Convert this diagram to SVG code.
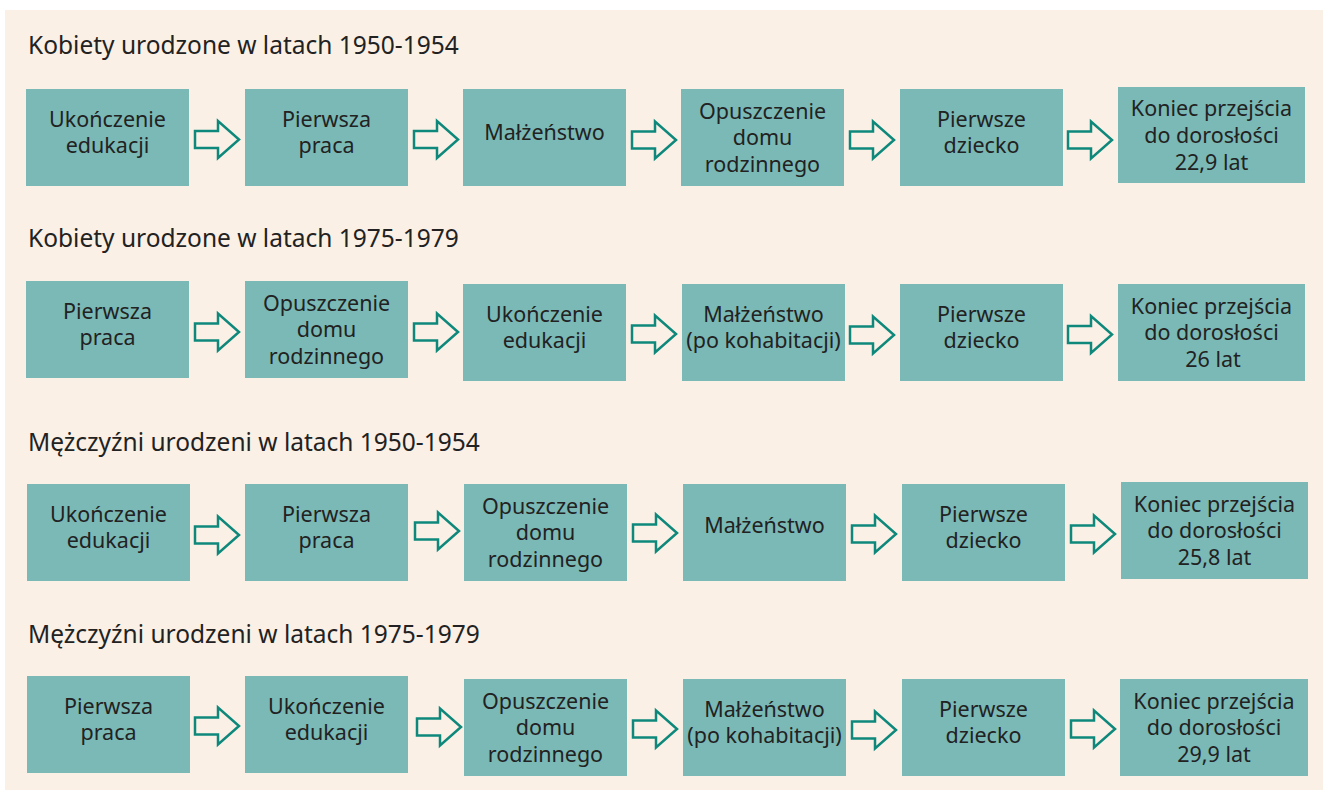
<svg xmlns="http://www.w3.org/2000/svg" width="1323" height="792" viewBox="0 0 1323 792">
<style>
.bg{fill:#faf0e6}
.box{fill:#7ab9b6}
.t{font-family:"Noto Sans","Open Sans",sans-serif;fill:#222;}
.title{font-size:24.5px}
.bt{font-size:21.5px;text-anchor:middle}
.arr{fill:none;stroke:#0e887b;stroke-width:2.5;stroke-linejoin:miter}
</style>
<defs>
<polygon id="ar" points="0,-8.5 23,-8.5 23,-18.5 44,0 23,18.5 23,8.5 0,8.5"/>
</defs>
<rect class="bg" x="5" y="10" width="1318" height="780"/>

<g id="titles">
<text class="t title" x="28" y="54">Kobiety urodzone w latach 1950-1954</text>
<text class="t title" x="28" y="247">Kobiety urodzone w latach 1975-1979</text>
<text class="t title" x="28" y="451">Mężczyźni urodzeni w latach 1950-1954</text>
<text class="t title" x="28" y="643">Mężczyźni urodzeni w latach 1975-1979</text>
</g>

<!-- Row 1 -->
<g id="r1b1"><rect class="box" x="26" y="89" width="163" height="97"/><text class="t bt" x="107.5" y="127">Ukończenie</text><text class="t bt" x="107.5" y="153">edukacji</text></g>
<g id="r1b2"><rect class="box" x="245" y="89" width="163" height="97"/><text class="t bt" x="326.5" y="127">Pierwsza</text><text class="t bt" x="326.5" y="153">praca</text></g>
<g id="r1b3"><rect class="box" x="463" y="89" width="163" height="97"/><text class="t bt" x="544.5" y="140">Małżeństwo</text></g>
<g id="r1b4"><rect class="box" x="681" y="89" width="163" height="97"/><text class="t bt" x="762.5" y="119">Opuszczenie</text><text class="t bt" x="762.5" y="145">domu</text><text class="t bt" x="762.5" y="172">rodzinnego</text></g>
<g id="r1b5"><rect class="box" x="900" y="89" width="163" height="97"/><text class="t bt" x="981.5" y="127">Pierwsze</text><text class="t bt" x="981.5" y="153">dziecko</text></g>
<g id="r1b6"><rect class="box" x="1118" y="87" width="187" height="96"/><text class="t bt" x="1211.5" y="116">Koniec przejścia</text><text class="t bt" x="1211.5" y="143">do dorosłości</text><text class="t bt" x="1211.5" y="170">22,9 lat</text></g>

<!-- Row 2 -->
<g id="r2b1"><rect class="box" x="26" y="281" width="163" height="97"/><text class="t bt" x="107.5" y="319">Pierwsza</text><text class="t bt" x="107.5" y="345">praca</text></g>
<g id="r2b2"><rect class="box" x="245" y="281" width="163" height="97"/><text class="t bt" x="326.5" y="311">Opuszczenie</text><text class="t bt" x="326.5" y="337">domu</text><text class="t bt" x="326.5" y="364">rodzinnego</text></g>
<g id="r2b3"><rect class="box" x="463" y="284" width="163" height="97"/><text class="t bt" x="544.5" y="322">Ukończenie</text><text class="t bt" x="544.5" y="348">edukacji</text></g>
<g id="r2b4"><rect class="box" x="682" y="284" width="163" height="97"/><text class="t bt" x="763.5" y="322">Małżeństwo</text><text class="t bt" x="763.5" y="348">(po kohabitacji)</text></g>
<g id="r2b5"><rect class="box" x="900" y="284" width="163" height="97"/><text class="t bt" x="981.5" y="322">Pierwsze</text><text class="t bt" x="981.5" y="348">dziecko</text></g>
<g id="r2b6"><rect class="box" x="1118" y="284" width="187" height="97"/><text class="t bt" x="1211.5" y="314">Koniec przejścia</text><text class="t bt" x="1211.5" y="340">do dorosłości</text><text class="t bt" x="1213" y="367">26 lat</text></g>

<!-- Row 3 -->
<g id="r3b1"><rect class="box" x="27" y="484" width="163" height="97"/><text class="t bt" x="108.5" y="522">Ukończenie</text><text class="t bt" x="108.5" y="548">edukacji</text></g>
<g id="r3b2"><rect class="box" x="245" y="484" width="163" height="97"/><text class="t bt" x="326.5" y="522">Pierwsza</text><text class="t bt" x="326.5" y="548">praca</text></g>
<g id="r3b3"><rect class="box" x="464" y="484" width="163" height="97"/><text class="t bt" x="545.5" y="514">Opuszczenie</text><text class="t bt" x="545.5" y="540">domu</text><text class="t bt" x="545.5" y="567">rodzinnego</text></g>
<g id="r3b4"><rect class="box" x="683" y="484" width="163" height="97"/><text class="t bt" x="764.5" y="533">Małżeństwo</text></g>
<g id="r3b5"><rect class="box" x="902" y="484" width="163" height="97"/><text class="t bt" x="983.5" y="522">Pierwsze</text><text class="t bt" x="983.5" y="548">dziecko</text></g>
<g id="r3b6"><rect class="box" x="1121" y="482" width="187" height="97"/><text class="t bt" x="1214.5" y="512">Koniec przejścia</text><text class="t bt" x="1214.5" y="538">do dorosłości</text><text class="t bt" x="1214.5" y="565">25,8 lat</text></g>

<!-- Row 4 -->
<g id="r4b1"><rect class="box" x="27" y="676" width="163" height="97"/><text class="t bt" x="108.5" y="714">Pierwsza</text><text class="t bt" x="108.5" y="740">praca</text></g>
<g id="r4b2"><rect class="box" x="245" y="676" width="163" height="97"/><text class="t bt" x="326.5" y="714">Ukończenie</text><text class="t bt" x="326.5" y="740">edukacji</text></g>
<g id="r4b3"><rect class="box" x="464" y="679" width="163" height="97"/><text class="t bt" x="545.5" y="709">Opuszczenie</text><text class="t bt" x="545.5" y="735">domu</text><text class="t bt" x="545.5" y="762">rodzinnego</text></g>
<g id="r4b4"><rect class="box" x="683" y="679" width="163" height="97"/><text class="t bt" x="764.5" y="717">Małżeństwo</text><text class="t bt" x="764.5" y="743">(po kohabitacji)</text></g>
<g id="r4b5"><rect class="box" x="902" y="679" width="163" height="97"/><text class="t bt" x="983.5" y="717">Pierwsze</text><text class="t bt" x="983.5" y="743">dziecko</text></g>
<g id="r4b6"><rect class="box" x="1120" y="679" width="188" height="97"/><text class="t bt" x="1214" y="709">Koniec przejścia</text><text class="t bt" x="1214" y="735">do dorosłości</text><text class="t bt" x="1214" y="762">29,9 lat</text></g>

<g id="connectors">
<use href="#ar" class="arr" x="195" y="139.5"/>
<use href="#ar" class="arr" x="414" y="139.5"/>
<use href="#ar" class="arr" x="632" y="140"/>
<use href="#ar" class="arr" x="850" y="140"/>
<use href="#ar" class="arr" x="1068" y="140"/>

<use href="#ar" class="arr" x="195" y="332"/>
<use href="#ar" class="arr" x="414" y="332"/>
<use href="#ar" class="arr" x="632" y="334"/>
<use href="#ar" class="arr" x="850" y="335"/>
<use href="#ar" class="arr" x="1068" y="334.5"/>

<use href="#ar" class="arr" x="195" y="535"/>
<use href="#ar" class="arr" x="415" y="531"/>
<use href="#ar" class="arr" x="633" y="533"/>
<use href="#ar" class="arr" x="852" y="534"/>
<use href="#ar" class="arr" x="1071" y="534"/>

<use href="#ar" class="arr" x="195" y="726"/>
<use href="#ar" class="arr" x="417" y="727"/>
<use href="#ar" class="arr" x="633" y="729"/>
<use href="#ar" class="arr" x="852" y="730"/>
<use href="#ar" class="arr" x="1071" y="729"/>
</g>
</svg>
